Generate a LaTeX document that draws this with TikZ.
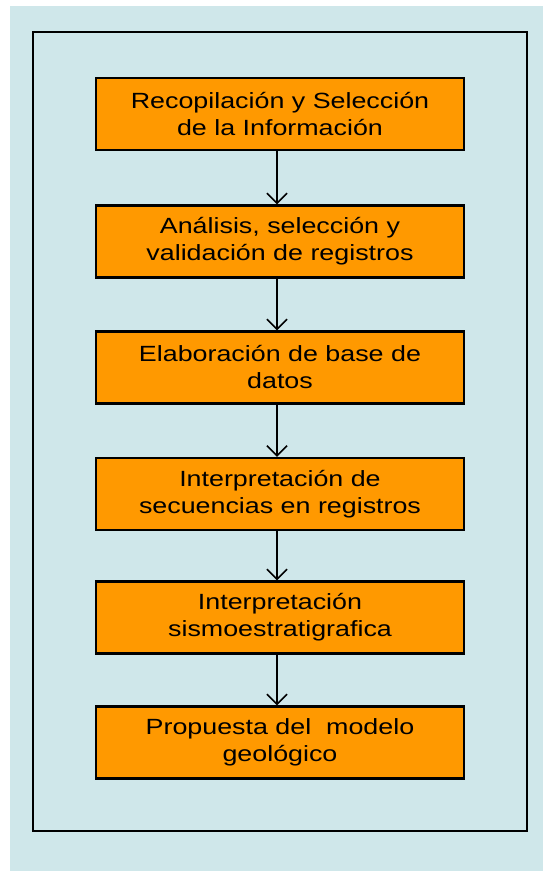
\documentclass[tikz,border=0pt]{standalone}
\usepackage{fontspec}
\setmainfont[FakeStretch=1.22]{Liberation Sans}
\usetikzlibrary{arrows.meta}
\definecolor{bgblue}{HTML}{CFE7EA}
\definecolor{boxorange}{HTML}{FF9900}
\tikzset{
  stepbox/.style={draw=black, line width=2.5pt, fill=boxorange,
    minimum width=368pt, minimum height=72pt, inner sep=0pt, align=center,
    font=\fontsize{22}{27}\selectfont},
  flowarrow/.style={line width=1.5pt, -{Straight Barb[length=10pt,width=20pt,line width=1.5pt]}}
}
\begin{document}
\begin{tikzpicture}[x=1pt,y=-1pt]
\useasboundingbox (0,0) rectangle (543,871);
\fill[bgblue] (10,6) rectangle (543,871);
\draw[line width=2pt] (33,32) rectangle (527,831);
\node[stepbox] (b1) at (280,114) {Recopilación y Selección\\de la Información};
\node[stepbox] (b2) at (280,241.5) {Análisis, selección y\\validación de registros};
\node[stepbox] (b3) at (280,367.5) {Elaboración de base de\\datos};
\node[stepbox] (b4) at (280,494) {Interpretación de\\secuencias en registros};
\node[stepbox] (b5) at (280,617.5) {Interpretación\\sismoestratigrafica};
\node[stepbox] (b6) at (280,742.5) {Propuesta del\ \ modelo\\geológico};
\foreach \a/\b in {b1/b2,b2/b3,b3/b4,b4/b5,b5/b6}
  \draw[flowarrow] ([xshift=-3pt]\a.south) -- ([xshift=-3pt]\b.north);
\end{tikzpicture}
\end{document}
